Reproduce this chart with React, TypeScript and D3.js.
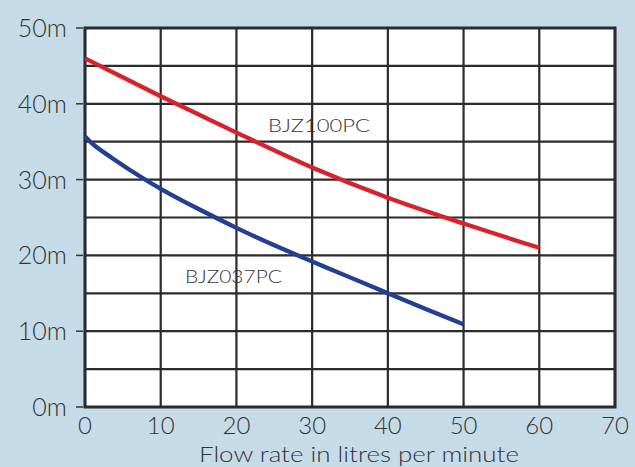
import React from "react";
import * as d3 from "d3";

const xTicks = [0, 10, 20, 30, 40, 50, 60, 70];
const yTicks = [0, 10, 20, 30, 40, 50];
const yGrid = [0, 5, 10, 15, 20, 25, 30, 35, 40, 45, 50];

const flowBJZ100PC = [0, 10, 20, 30, 40, 50, 60];
const headBJZ100PC = [46, 41, 36.2, 31.6, 27.6, 24.2, 21];

const flowBJZ037PC = [0, 1, 3.5, 6, 10, 15, 20, 25, 30, 35, 40, 45, 50];
const headBJZ037PC = [35.7, 34.6, 32.9, 31.2, 28.7, 26.1, 23.6, 21.3, 19.2, 17.1, 15, 12.9, 10.9];

const W = 635;
const H = 467;
const FONT = "Lato, 'Open Sans', sans-serif";

export default function App() {
  const x = d3.scaleLinear().domain([0, 70]).range([85, 615]);
  const y = d3.scaleLinear().domain([0, 50]).range([407, 28]);
  const redLine = d3
    .line<[number, number]>()
    .x((d) => x(d[0]))
    .y((d) => y(d[1]))
    .curve(d3.curveMonotoneX);
  const blueLine = d3
    .line<[number, number]>()
    .x((d) => x(d[0]))
    .y((d) => y(d[1]))
    .curve(d3.curveBasis);
  const red = redLine(flowBJZ100PC.map((f, i) => [f, headBJZ100PC[i]]) as [number, number][]);
  const blue = blueLine(flowBJZ037PC.map((f, i) => [f, headBJZ037PC[i]]) as [number, number][]);

  return (
    <svg width={W} height={H} style={{ position: "absolute", left: 0, top: 0 }}>
      <rect x={0} y={0} width={W} height={H} fill="#c5dbe7" />
      <rect x={x(0)} y={y(50)} width={x(70) - x(0)} height={y(0) - y(50)} fill="#ffffff" />
      {yGrid.map((v) => (
        <line key={"h" + v} x1={x(0)} x2={x(70)} y1={y(v)} y2={y(v)} stroke="#2b2b2b" strokeWidth={2.2} />
      ))}
      {xTicks.map((v) => (
        <line key={"v" + v} x1={x(v)} x2={x(v)} y1={y(0)} y2={y(50)} stroke="#2b2b2b" strokeWidth={2.2} />
      ))}
      <rect x={x(0)} y={y(50)} width={x(70) - x(0)} height={y(0) - y(50)} fill="none" stroke="#2b2b2b" strokeWidth={3} />
      {yTicks.map((v) => (
        <g key={"yt" + v}>
          <line x1={76} x2={83} y1={y(v)} y2={y(v)} stroke="#333" strokeWidth={1.5} />
          <text x={67} y={y(v)} dy="0.36em" textAnchor="end" fontFamily={FONT} fontWeight={300} fontSize={25} fill="#333">
            {v}m
          </text>
        </g>
      ))}
      {xTicks.map((v) => (
        <text key={"xt" + v} x={x(v)} y={434} textAnchor="middle" fontFamily={FONT} fontWeight={300} fontSize={24} fill="#333">
          {v}
        </text>
      ))}
      <text x={359} y={462} textAnchor="middle" fontFamily={FONT} fontWeight={300} fontSize={22} fill="#333" textLength={320} lengthAdjust="spacingAndGlyphs">
        Flow rate in litres per minute
      </text>
      <path d={red || ""} fill="none" stroke="#d7222b" strokeWidth={4.3} />
      <path d={blue || ""} fill="none" stroke="#233f90" strokeWidth={4.3} />
      <text x={268} y={132} fontFamily={FONT} fontWeight={300} fontSize={17} fill="#333" textLength={102} lengthAdjust="spacingAndGlyphs">
        BJZ100PC
      </text>
      <text x={185} y={283} fontFamily={FONT} fontWeight={300} fontSize={17} fill="#333" textLength={97} lengthAdjust="spacingAndGlyphs">
        BJZ037PC
      </text>
    </svg>
  );
}
